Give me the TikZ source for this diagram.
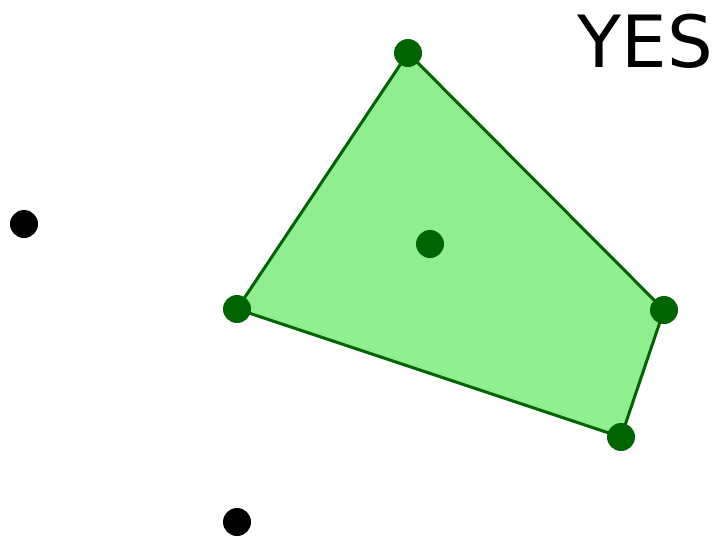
\documentclass[tikz,border=0pt]{standalone}
\usepackage{fontspec}
\setmainfont{DejaVu Sans}
\definecolor{dkgreen}{HTML}{006400}
\definecolor{ltgreen}{HTML}{90EE90}
\tikzset{
  pt/.style={circle,inner sep=0pt,minimum size=28pt,fill=#1},
  edge/.style={draw=dkgreen,line width=3pt,line join=round}
}
\begin{document}
\begin{tikzpicture}[x=1pt,y=-1pt]
\useasboundingbox (0,0) rectangle (714,536);
\coordinate (a) at (408,53);
\coordinate (b) at (664,310);
\coordinate (c) at (621,437);
\coordinate (d) at (237,309);
\fill[ltgreen] (a) -- (b) -- (c) -- (d) -- cycle;
\draw[edge] (a) -- (b) -- (c) -- (d) -- cycle;
\node[pt=dkgreen] (na) at (a) {};
\node[pt=dkgreen] (nb) at (b) {};
\node[pt=dkgreen] (nc) at (c) {};
\node[pt=dkgreen] (nd) at (d) {};
\node[pt=dkgreen] (ctr) at (430,244) {};
\node[pt=black] (p1) at (24,224) {};
\node[pt=black] (p2) at (237,522) {};
\node[anchor=base east,inner sep=0pt,font=\fontsize{72}{80}\selectfont] (yes) at (713,67) {YES};
\end{tikzpicture}
\end{document}
